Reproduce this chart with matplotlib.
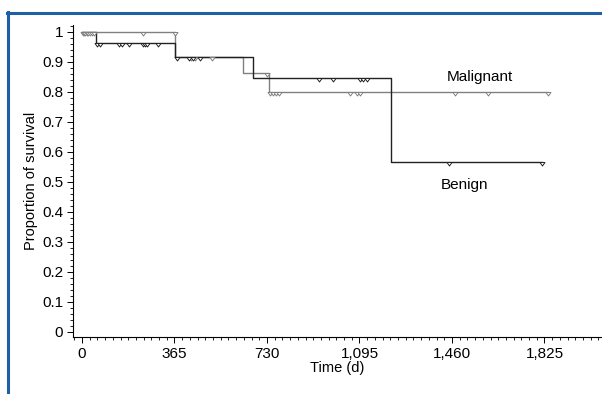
import matplotlib
matplotlib.use("Agg")
import matplotlib.pyplot as plt
from matplotlib.path import Path
from matplotlib.lines import Line2D
from matplotlib.ticker import MultipleLocator, FixedLocator

plt.rcParams['font.family'] = ['Liberation Sans', 'DejaVu Sans']

# ---- data ----
# Malignant (gray) step curve: event times and survival after each step
mal_times = [0, 368, 637, 736, 1839]
mal_surv = [1.0, 0.915, 0.862, 0.80, 0.80]
mal_cens_t = [2, 6, 12, 18, 24, 30, 38, 46, 241,
              367, 430, 446, 513, 730,
              742, 754, 765, 777, 1058, 1085, 1097, 1472, 1602, 1839]
# Benign (black) step curve
ben_times = [0, 55, 368, 673, 1219, 1815]
ben_surv = [1.0, 0.961, 0.915, 0.846, 0.567, 0.567]
ben_cens_t = [59, 71, 146, 158, 185, 241, 249, 256, 300,
              375, 422, 438, 465,
              935, 990, 1097, 1109, 1125, 1448, 1815]

x_ticks = [0, 365, 730, 1095, 1460, 1825]
x_tick_labels = ["0", "365", "730", "1,095", "1,460", "1,825"]
y_ticks = [0, 0.1, 0.2, 0.3, 0.4, 0.5, 0.6, 0.7, 0.8, 0.9, 1.0]
y_tick_labels = ["0", "0.1", "0.2", "0.3", "0.4", "0.5", "0.6", "0.7", "0.8", "0.9", "1"]


def surv_at(times, surv, t):
    s = surv[0]
    for ti, si in zip(times, surv):
        if ti <= t:
            s = si
    return s


W, H = 602, 394
fig = plt.figure(figsize=(W / 100, H / 100), dpi=100)
ax = fig.add_axes([73 / W, (H - 337) / H, (W - 73) / W, (337 - 25) / H])

# censor marker: downward triangle hanging below the line
cens_marker = Path([(-1, 0), (1, 0), (0, -1.4), (-1, 0)],
                   [Path.MOVETO, Path.LINETO, Path.LINETO, Path.CLOSEPOLY])

gray = "#808080"
black = "#222222"

for times, surv, cens, col in [(mal_times, mal_surv, mal_cens_t, gray),
                                (ben_times, ben_surv, ben_cens_t, black)]:
    ax.step(times, surv, where='post', color=col, lw=1.0, zorder=3)
    ys = [surv_at(times, surv, t) for t in cens]
    ax.plot(cens, ys, linestyle='none', marker=cens_marker, markersize=5,
            markerfacecolor='white', markeredgecolor=col, markeredgewidth=0.7,
            zorder=4)

ax.text(1570, 0.849, "Malignant", ha='center', va='center', fontsize=11)
ax.text(1511, 0.489, "Benign", ha='center', va='center', fontsize=11)

ax.set_xlim(-35.5, 2052)
ax.set_ylim(-0.0177, 1.022)

ax.xaxis.set_major_locator(FixedLocator(x_ticks))
ax.set_xticklabels(x_tick_labels)
ax.xaxis.set_minor_locator(MultipleLocator(365 / 12))
ax.yaxis.set_major_locator(FixedLocator(y_ticks))
ax.set_yticklabels(y_tick_labels)
ax.yaxis.set_minor_locator(MultipleLocator(0.02))

ax.tick_params(axis='both', which='major', direction='out', length=4, width=0.7,
               labelsize=11, pad=3)
ax.tick_params(axis='both', which='minor', direction='out', length=2, width=0.6)

for s in ['top', 'right']:
    ax.spines[s].set_visible(False)
for s in ['left', 'bottom']:
    ax.spines[s].set_linewidth(0.8)

ax.set_xlabel("Time (d)", fontsize=10.5, labelpad=0)
ax.set_ylabel("Proportion of survival", fontsize=10.5, labelpad=3)

# blue frame (top and left)
blue = "#1f5fa8"
fig.add_artist(Line2D([7 / W, 1.0], [1 - 12.5 / H, 1 - 12.5 / H],
                      transform=fig.transFigure, color=blue, lw=2.2))
fig.add_artist(Line2D([8 / W, 8 / W], [0, 1 - 11.5 / H],
                      transform=fig.transFigure, color=blue, lw=2.2))

fig.savefig("out.png", dpi=100)
